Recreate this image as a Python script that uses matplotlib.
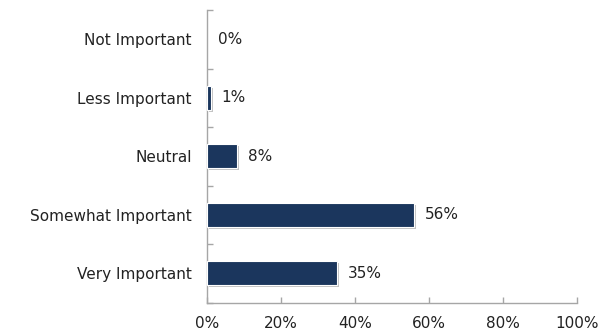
import matplotlib
matplotlib.use("Agg")
import matplotlib.pyplot as plt
import matplotlib.patheffects as pe
from matplotlib.ticker import FuncFormatter, FixedLocator

categories = ["Very Important", "Somewhat Important", "Neutral", "Less Important", "Not Important"]
values = [35, 56, 8, 1, 0]
x_ticks = [0, 20, 40, 60, 80, 100]

plt.rcParams['font.family'] = ['DejaVu Sans']

W, H = 611, 333
fig = plt.figure(figsize=(W / 100, H / 100), dpi=100)
ax = fig.add_axes([207 / W, 1 - 302.5 / H, 370 / W, 292.5 / H])

bar_color = "#1B365D"
axis_color = "#A6A6A6"
text_color = "#222222"

bars = ax.barh(range(len(categories)), values, height=0.41, color=bar_color,
               edgecolor="white", linewidth=0.8, zorder=3)
for b, v in zip(bars, values):
    if v > 0:
        b.set_path_effects([pe.SimplePatchShadow(offset=(1.5, -1.5), shadow_rgbFace="#888888", alpha=0.5),
                            pe.Normal()])
    else:
        b.set_linewidth(0)

for i, v in enumerate(values):
    ax.text(v + 3, i, f"{v}%", va="center", ha="left", fontsize=11, color=text_color)

ax.set_xlim(0, 100)
ax.set_ylim(-0.5, len(categories) - 0.5)
ax.xaxis.set_major_locator(FixedLocator(x_ticks))
ax.xaxis.set_major_formatter(FuncFormatter(lambda x, p: f"{int(x)}%"))

ax.set_yticks(range(len(categories)))
ax.set_yticklabels(categories)
ax.yaxis.set_minor_locator(FixedLocator([i - 0.5 for i in range(len(categories) + 1)]))
ax.tick_params(axis="y", which="major", length=0, pad=11, labelsize=11, labelcolor=text_color)
ax.tick_params(axis="y", which="minor", direction="in", length=4, color=axis_color, width=1)
ax.tick_params(axis="x", which="major", direction="in", length=4, color=axis_color, width=1, pad=10,
               labelsize=11, labelcolor=text_color)

for s in ["top", "right"]:
    ax.spines[s].set_visible(False)
for s in ["left", "bottom"]:
    ax.spines[s].set_color(axis_color)
    ax.spines[s].set_linewidth(1)

fig.savefig("out.png", dpi=100, facecolor="white")
